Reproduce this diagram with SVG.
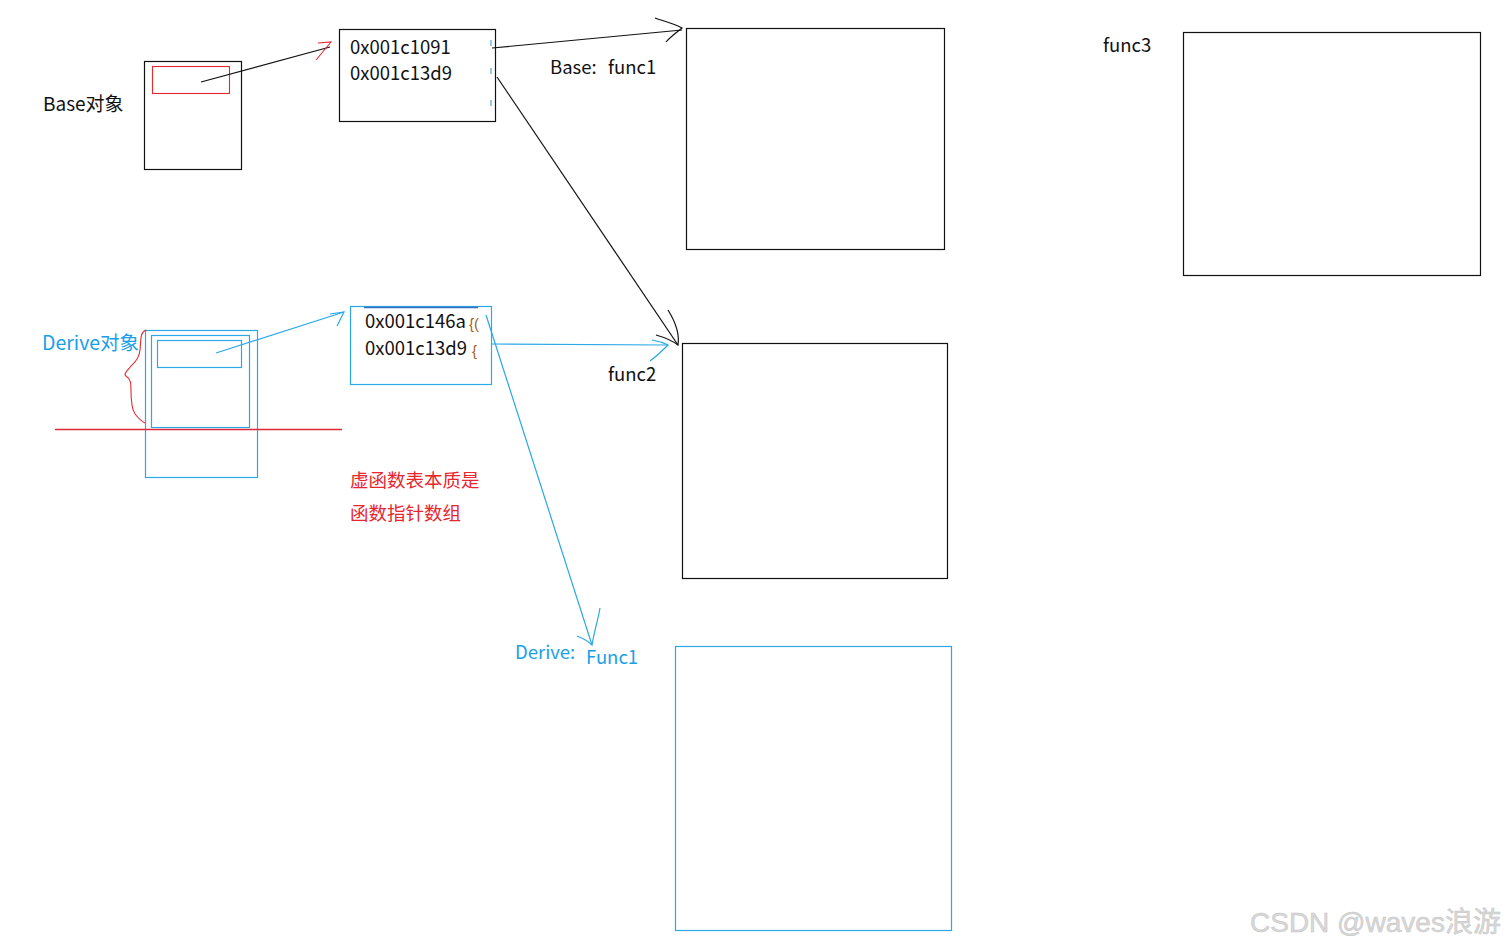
<svg xmlns="http://www.w3.org/2000/svg" width="1504" height="948" viewBox="0 0 1504 948">
<style>
.t{font-family:"Noto Sans CJK SC","Open Sans",sans-serif;font-size:18.5px;fill:#111}
.b{fill:#1aa0e8}
.r{fill:#e8262e}
.bk{fill:none;stroke:#111;stroke-width:1.2}
.bl{fill:none;stroke:#2aa8e8;stroke-width:1.2}
.rd{fill:none;stroke:#e8262e;stroke-width:1.1}
</style>
<rect width="1504" height="948" fill="#fff"/>
<g id="base-object">
<rect class="bk" x="144.5" y="61.5" width="97" height="108"/>
<rect class="rd" x="152.5" y="66.5" width="77" height="27"/>
<text class="t" x="43" y="111" style="font-size:19px">Base对象</text>
</g>
<g id="base-vtable">
<rect class="bk" x="339.5" y="29.5" width="156" height="92"/>
<text class="t" x="350" y="54">0x001c1091</text>
<text class="t" x="350" y="80">0x001c13d9</text>
<path d="M491 40v6M491 68v6M491 100v6" stroke="#7ab8e0" stroke-width="1.5"/>
</g>
<g id="base-func1">
<text class="t" x="550" y="74">Base:</text>
<text class="t" x="608" y="74">func1</text>
<rect class="bk" x="686.5" y="28.5" width="258" height="221"/>
</g>
<g id="func3">
<text class="t" x="1103" y="52">func3</text>
<rect class="bk" x="1183.5" y="32.5" width="297" height="243"/>
</g>
<g id="derive-object">
<rect class="bl" x="145.5" y="330.5" width="112" height="147"/>
<rect class="bl" x="151.5" y="335.5" width="98" height="92"/>
<rect class="bl" x="157.5" y="340.5" width="84" height="27"/>
<text class="t b" x="42" y="350" style="font-size:19.5px">Derive对象</text>
<path class="rd" d="M146 330c-6 2-5 10-6 20-1 10-7 14-9 16-3 4-8 8-5 10 5 3 5 8 5 14 0 8 0 18 4 24 4 5 6 7 10 9"/>
</g>
<path id="cut-line" d="M55 429.5H342" stroke="#e0283a" stroke-width="1.3" fill="none"/>
<g id="derive-vtable">
<rect class="bl" x="350.5" y="306.5" width="141" height="78"/>
<path d="M364 307.5H478" stroke="#3a70c0" stroke-width="1.5"/>
<text class="t" x="365" y="328">0x001c146a</text>
<text class="t" x="365" y="355">0x001c13d9</text>
<text x="469" y="329" font-family="Liberation Sans,sans-serif" font-size="15" fill="#a0601a">{(</text>
<text x="472" y="356" font-family="Liberation Sans,sans-serif" font-size="15" fill="#a0601a">{</text>
</g>
<g id="func2">
<text class="t" x="608" y="381">func2</text>
<rect class="bk" x="682.5" y="343.5" width="265" height="235"/>
</g>
<g id="note">
<text class="t r" x="350" y="487">虚函数表本质是</text>
<text class="t r" x="350" y="520">函数指针数组</text>
</g>
<g id="derive-func1">
<text class="t b" x="515" y="659">Derive:</text>
<text class="t b" x="586" y="664">Func1</text>
<rect class="bl" x="675.5" y="646.5" width="276" height="284"/>
</g>
<g id="connectors">
<path class="bk" d="M201 82L330 47"/>
<path class="rd" d="M318 43L331 42 316 60"/>
<path class="bk" d="M492 48L682 30"/>
<path class="bk" d="M655 18c8 3 18 5 27 10 -5 4-12 9-16 14"/>
<path class="bk" d="M497 77L678 345"/>
<path class="bk" d="M668 310c5 8 12 22 10 35 -8-6-15-8-22-10"/>
<path class="bl" d="M216 353L344 312"/>
<path class="bl" d="M330 314L344 312 337 326"/>
<path class="bl" d="M492 344L668 345"/>
<path class="bl" d="M652 340c6 1 12 3 16 5 -4 4-10 10-18 16"/>
<path class="bl" d="M486 315L592 645"/>
<path class="bl" d="M600 608c-2 12-6 24-8 37 -4-4-10-7-15-9"/>
</g>
<text x="1250" y="932" font-family="Liberation Sans,Noto Sans CJK SC,sans-serif" font-size="28" fill="#d8d8d8" stroke="#c4c4c4" stroke-width="0.5">CSDN @waves浪游</text>
</svg>
